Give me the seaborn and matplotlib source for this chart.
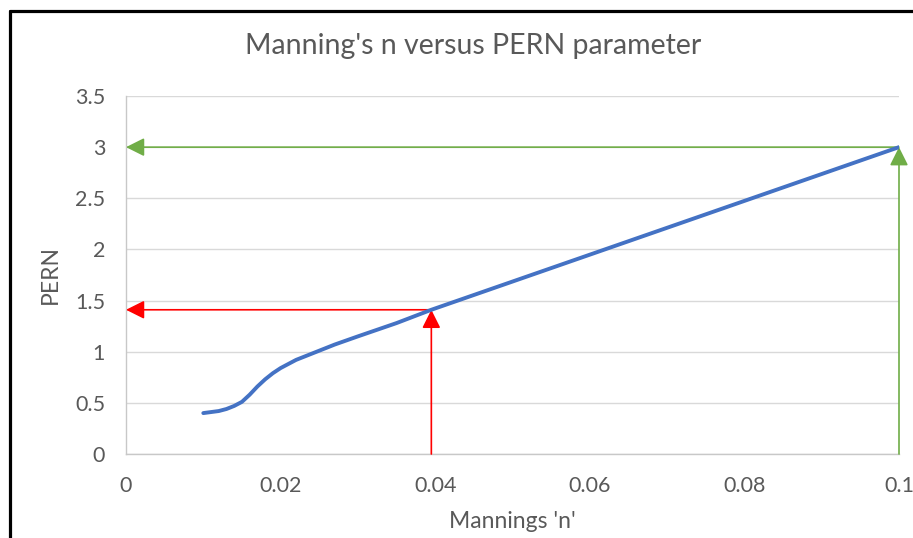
import numpy as np
import matplotlib
matplotlib.use("Agg")
import matplotlib.pyplot as plt
from matplotlib.lines import Line2D
import seaborn as sns

# values
n_vals = [0.010, 0.011, 0.012, 0.013, 0.014, 0.015, 0.016, 0.017, 0.018, 0.019, 0.020,
          0.021, 0.022, 0.023, 0.024, 0.025, 0.027, 0.030, 0.035, 0.0395, 0.1]
pern_vals = [0.40, 0.41, 0.42, 0.44, 0.47, 0.51, 0.58, 0.66, 0.73, 0.79, 0.84,
             0.88, 0.92, 0.95, 0.98, 1.01, 1.07, 1.15, 1.28, 1.41, 3.0]

# the two read-off arrows (red = n 0.04, green = n 0.1)
arrow_n = [0.0395, 0.1]
arrow_pern = [1.41, 3.0]
arrow_colors = ["#FF0000", "#70AD47"]

x_ticks = [0, 0.02, 0.04, 0.06, 0.08, 0.1]
x_tick_labels = ["0", "0.02", "0.04", "0.06", "0.08", "0.1"]
y_ticks = [0, 0.5, 1, 1.5, 2, 2.5, 3, 3.5]
y_tick_labels = ["0", "0.5", "1", "1.5", "2", "2.5", "3", "3.5"]

sns.set_theme(style="white")
plt.rcParams["font.family"] = ["Lato", "DejaVu Sans"]
txt = "#595959"

W, H = 913, 538
fig = plt.figure(figsize=(W / 100, H / 100), dpi=100)
ax = fig.add_axes([126 / W, 1 - 454 / H, (899 - 126) / W, (454 - 96) / H])

#------------arrows first so the blue line sits on top-------------
for i in range(len(arrow_n)):
    c = arrow_colors[i]
    props = dict(arrowstyle="-|>,head_length=0.7,head_width=0.35", color=c, lw=1.2,
                 shrinkA=0, shrinkB=0, mutation_scale=16)
    ax.annotate("", xy=(arrow_n[i], arrow_pern[i]), xytext=(arrow_n[i], 0),
                arrowprops=props, annotation_clip=False)
    ax.annotate("", xy=(0, arrow_pern[i]), xytext=(arrow_n[i], arrow_pern[i]),
                arrowprops=props, annotation_clip=False)

sns.lineplot(x=n_vals, y=pern_vals, ax=ax, color="#4472C4", linewidth=2.8,
             estimator=None, sort=True, zorder=5)

ax.set_xlim(0, 0.1)
ax.set_ylim(0, 3.5)
ax.set_xticks(x_ticks)
ax.set_xticklabels(x_tick_labels)
ax.set_yticks(y_ticks)
ax.set_yticklabels(y_tick_labels)
ax.tick_params(length=0, labelsize=15.5, colors=txt)
ax.tick_params(axis="x", pad=16)
ax.tick_params(axis="y", pad=15)
ax.yaxis.grid(True, color="#D9D9D9", lw=1)
ax.xaxis.grid(False)
for s in ["top", "right"]:
    ax.spines[s].set_visible(False)
for s in ["left", "bottom"]:
    ax.spines[s].set_color("#C8C8C8")
    ax.spines[s].set_linewidth(1)
ax.set_xlabel("")
ax.set_ylabel("")

fig.text(473 / W, 1 - 46 / H, "Manning's n versus PERN parameter", ha="center", va="center",
         fontsize=20.5, color=txt)
fig.text(512 / W, 1 - 521 / H, "Mannings 'n'", ha="center", va="center", fontsize=16.5, color=txt)
fig.text(50 / W, 1 - 275 / H, "PERN", ha="center", va="center", rotation=90, fontsize=16.5, color=txt)

# black frame round the chart (left and top edges visible)
fig.add_artist(Line2D([9.5 / W, 9.5 / W], [0, 1 - 10.5 / H], color="black", lw=2.3,
                      transform=fig.transFigure))
fig.add_artist(Line2D([9.5 / W, 1], [1 - 10.5 / H, 1 - 10.5 / H], color="black", lw=2.3,
                      transform=fig.transFigure))

fig.savefig("out.png", dpi=100)
